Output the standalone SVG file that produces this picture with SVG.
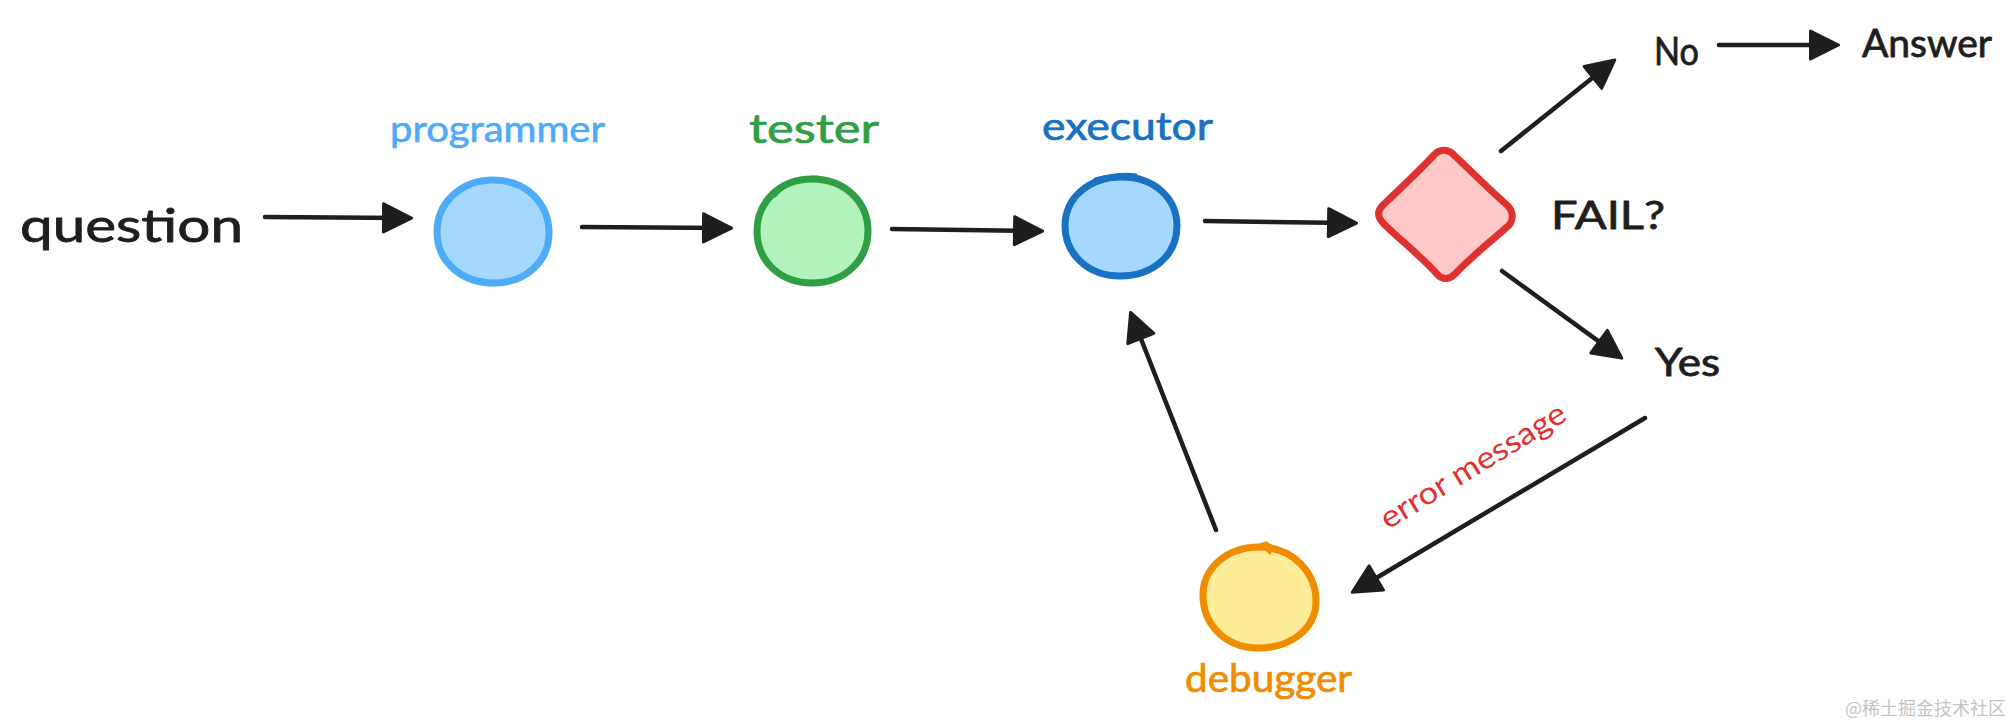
<svg xmlns="http://www.w3.org/2000/svg" width="2010" height="725" viewBox="0 0 2010 725">
<style>
text{font-family:"Lato","Noto Sans","Noto Sans CJK SC",sans-serif;stroke-linejoin:round}
.ink{fill:#1e1e1e;stroke:#1e1e1e;stroke-width:.8}
.conn{fill:none;stroke:#1e1e1e;stroke-width:4.5;stroke-linecap:round;marker-end:url(#head)}
.shape{stroke-width:7;stroke-linejoin:round;stroke-linecap:round}
.over{fill:none;stroke-width:3;stroke-linecap:round}
.blue{fill:#a5d8ff}.green{fill:#b2f2bb}.red{fill:#ffc9c9}.yellow{fill:#ffec99}
</style>
<defs>
<marker id="head" viewBox="0 0 32 32" markerWidth="32" markerHeight="32" markerUnits="userSpaceOnUse" refX="24" refY="16" orient="auto">
<path d="M2,2 L30,16 L2,30 Z" fill="#1e1e1e" stroke="#1e1e1e" stroke-width="3" stroke-linejoin="round"/>
</marker>
</defs>
<rect width="2010" height="725" fill="#ffffff"/>
<g id="connectors">
<path class="conn" d="M265,217 L405.5,218"/>
<path class="conn" d="M582,227 L725.5,228"/>
<path class="conn" d="M892,229 L1036.5,231"/>
<path class="conn" d="M1205,221 L1350.5,223"/>
<path class="conn" d="M1501,151 L1610.1,63.7"/>
<path class="conn" d="M1719,45 L1832.5,45"/>
<path class="conn" d="M1502,271 L1616.9,354.6"/>
<path class="conn" d="M1645,418 L1357.4,589.2"/>
<path class="conn" d="M1216,530 L1132.8,318"/>
</g>
<g id="question"><text class="ink" x="20" y="242" font-size="46" stroke-width="1.2" textLength="223" lengthAdjust="spacingAndGlyphs">question</text></g>
<g id="programmer">
<path class="shape blue" stroke="#4dabf7" d="M493,180 C526,180 549,203 549,233 C549,262 525,283 494,283 C462,283 437,262 437,232 C437,203 461,180 493,180 Z"/>
<path class="over" stroke="#4dabf7" d="M474,183 C490,176 515,178 530,190"/>
<text x="390" y="142" font-size="36" fill="#4dabf7" stroke="#4dabf7" stroke-width=".6" textLength="215" lengthAdjust="spacingAndGlyphs">programmer</text>
</g>
<g id="tester">
<path class="shape green" stroke="#2f9e44" d="M812,179 C845,179 868,202 868,231 C868,261 844,283 812,283 C780,283 757,261 757,231 C757,202 780,179 812,179 Z"/>
<path class="over" stroke="#2f9e44" d="M775,196 C785,184 800,177 818,177"/>
<text x="749" y="143" font-size="40" fill="#2f9e44" stroke="#2f9e44" stroke-width=".7" textLength="130" lengthAdjust="spacingAndGlyphs">tester</text>
</g>
<g id="executor">
<path class="shape blue" stroke="#1971c2" d="M1122,177 C1154,177 1177,198 1177,226 C1177,255 1153,276 1120,276 C1088,276 1065,254 1065,226 C1065,197 1090,177 1122,177 Z"/>
<path class="over" stroke="#1971c2" d="M1095,179 C1110,175 1125,173 1136,175"/>
<text x="1042" y="140" font-size="38" fill="#1971c2" stroke="#1971c2" stroke-width=".7" textLength="171" lengthAdjust="spacingAndGlyphs">executor</text>
</g>
<g id="fail">
<path class="shape red" stroke="#e03131" d="M1434,155 C1440,148 1449,149 1455,156 C1472,172 1490,190 1507,205 C1514,212 1514,221 1507,227 C1490,242 1470,258 1455,274 C1449,280 1442,280 1437,274 C1421,256 1400,240 1384,224 C1377,217 1377,211 1383,205 C1400,189 1418,172 1434,155 Z"/>
</g>
<g id="failLabel"><text class="ink" x="1551" y="229" font-size="38" textLength="114" lengthAdjust="spacingAndGlyphs">FAIL?</text></g>
<g id="no"><text class="ink" x="1654" y="65" font-size="38" textLength="45" lengthAdjust="spacingAndGlyphs">No</text></g>
<g id="answer"><text class="ink" x="1862" y="57" font-size="38" textLength="130" lengthAdjust="spacingAndGlyphs">Answer</text></g>
<g id="yes"><text class="ink" x="1655" y="376" font-size="38" textLength="65" lengthAdjust="spacingAndGlyphs">Yes</text></g>
<g id="debugger">
<path class="shape yellow" stroke="#f08c00" d="M1259,547 C1293,547 1316,573 1316,601 C1316,628 1292,648 1258,648 C1226,648 1203,625 1203,595 C1203,568 1227,547 1259,547 Z"/>
<path class="over" stroke="#f08c00" d="M1240,552 L1266,543 L1298,562 M1262,545 L1270,553"/>
<text x="1185" y="692" font-size="38" fill="#f08c00" stroke="#f08c00" stroke-width=".7" textLength="167" lengthAdjust="spacingAndGlyphs">debugger</text>
</g>
<g id="errorMessage"><text transform="translate(1388,530) rotate(-31.5)" font-size="31" fill="#e03131" textLength="212" lengthAdjust="spacingAndGlyphs">error message</text></g>
<g id="watermark"><text x="1845" y="715" font-size="18" fill="#c4c4c4" style="font-family:'Noto Sans CJK SC',sans-serif">@稀土掘金技术社区</text></g>
</svg>
